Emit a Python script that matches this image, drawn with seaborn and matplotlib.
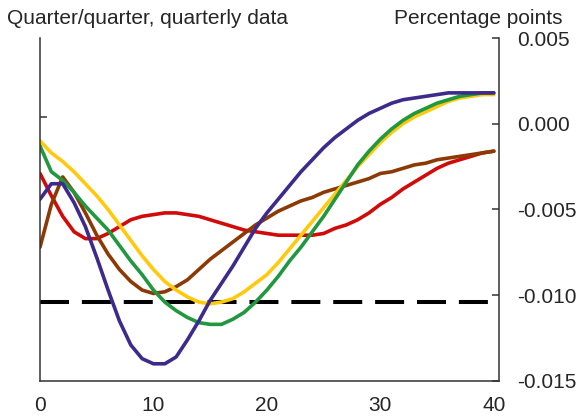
import matplotlib
matplotlib.use("Agg")
import matplotlib.pyplot as plt
import seaborn as sns
import pandas as pd
import numpy as np

quarters = list(range(0, 41))

red = [-0.0029, -0.0042, -0.0054, -0.0063, -0.0067, -0.0067, -0.0064, -0.0060, -0.0056, -0.0054,
       -0.0053, -0.0052, -0.0052, -0.0053, -0.0054, -0.0056, -0.0058, -0.0060, -0.0062, -0.0063,
       -0.0064, -0.0065, -0.0065, -0.0065, -0.0065, -0.0064, -0.0061, -0.0059, -0.0056, -0.0052,
       -0.0047, -0.0043, -0.0038, -0.0034, -0.0030, -0.0026, -0.0023, -0.0021, -0.0019, -0.0017,
       -0.0016]
brown = [-0.0072, -0.0047, -0.0031, -0.0040, -0.0052, -0.0065, -0.0076, -0.0085, -0.0092, -0.0097,
         -0.0099, -0.0098, -0.0095, -0.0091, -0.0085, -0.0079, -0.0074, -0.0069, -0.0064, -0.0059,
         -0.0055, -0.0051, -0.0048, -0.0045, -0.0043, -0.0040, -0.0038, -0.0036, -0.0034, -0.0032,
         -0.0029, -0.0028, -0.0026, -0.0024, -0.0023, -0.0021, -0.0020, -0.0019, -0.0018, -0.0017,
         -0.0016]
yellow = [-0.0010, -0.0017, -0.0022, -0.0028, -0.0035, -0.0042, -0.0050, -0.0059, -0.0068, -0.0077,
          -0.0085, -0.0092, -0.0097, -0.0101, -0.0104, -0.0105, -0.0104, -0.0102, -0.0098, -0.0093,
          -0.0088, -0.0081, -0.0073, -0.0065, -0.0057, -0.0049, -0.0041, -0.0033, -0.0025, -0.0018,
          -0.0011, -0.0005, 0.0000, 0.0004, 0.0007, 0.0010, 0.0013, 0.0015, 0.0016, 0.0017,
          0.0017]
green = [-0.0013, -0.0028, -0.0033, -0.0040, -0.0048, -0.0055, -0.0062, -0.0071, -0.0080, -0.0088,
         -0.0097, -0.0104, -0.0109, -0.0113, -0.0116, -0.0117, -0.0117, -0.0114, -0.0110, -0.0104,
         -0.0097, -0.0089, -0.0080, -0.0072, -0.0063, -0.0054, -0.0044, -0.0034, -0.0024, -0.0016,
         -0.0009, -0.0003, 0.0002, 0.0006, 0.0009, 0.0012, 0.0014, 0.0016, 0.0017, 0.0018,
         0.0018]
purple = [-0.0044, -0.0035, -0.0035, -0.0046, -0.0060, -0.0078, -0.0097, -0.0115, -0.0129, -0.0137,
          -0.0140, -0.0140, -0.0136, -0.0126, -0.0115, -0.0103, -0.0093, -0.0083, -0.0072, -0.0061,
          -0.0052, -0.0044, -0.0036, -0.0028, -0.0021, -0.0014, -0.0008, -0.0003, 0.0002, 0.0006,
          0.0009, 0.0012, 0.0014, 0.0015, 0.0016, 0.0017, 0.0018, 0.0018, 0.0018, 0.0018,
          0.0018]

threshold = -0.0104
series_names = ["Red", "Brown", "Yellow", "Green", "Purple"]
series_values = [red, brown, yellow, green, purple]
palette = {"Red": "#D10A0A", "Brown": "#8B3A05", "Yellow": "#FFC90E",
           "Green": "#21973F", "Purple": "#3D2A8A"}
right_ticks = [-0.015, -0.010, -0.005, 0.000, 0.005]
right_labels = ["-0.015", "-0.010", "-0.005", "0.000", "0.005"]
x_ticks = [0, 10, 20, 30, 40]
left_tick = [0.0004]

rows = []
for name, vals in zip(series_names, series_values):
    for q, v in zip(quarters, vals):
        rows.append({"quarter": q, "value": v, "series": name})
df = pd.DataFrame(rows)

sns.set_style("white")
plt.rcParams['font.family'] = ['Liberation Sans', 'DejaVu Sans']
FS = 15

fig = plt.figure(figsize=(5.8, 4.2), dpi=100)
ax = fig.add_axes([0.069, 0.093, 0.791, 0.8165])

ax.axhline(threshold, color="black", lw=2.9, dashes=(7.2, 3.2), zorder=1)
sns.lineplot(data=df, x="quarter", y="value", hue="series", hue_order=series_names,
             palette=palette, lw=2.6, legend=False, ax=ax, zorder=2)

ax.set_xlim(0, 40.44)
ax.set_ylim(-0.015, 0.005)
ax.set_xlabel("")
ax.set_ylabel("")

for s in ["left", "bottom", "right"]:
    ax.spines[s].set_visible(True)
    ax.spines[s].set_color("#333333")
    ax.spines[s].set_linewidth(1.1)
ax.spines["top"].set_visible(False)

ax.set_xticks(x_ticks)
ax.set_xticklabels([str(t) for t in x_ticks], fontsize=FS)
ax.tick_params(axis="x", direction="in", length=5, width=1.1, color="#333333", pad=11)

ax.set_yticks(left_tick)
ax.set_yticklabels([])
ax.tick_params(axis="y", direction="in", length=5, width=1.1, color="#333333", left=True)

ax2 = ax.twinx()
ax2.set_ylim(-0.015, 0.005)
ax2.set_yticks(right_ticks)
ax2.set_yticklabels(right_labels, fontsize=FS)
ax2.tick_params(axis="y", direction="in", length=5, width=1.1, color="#333333", pad=13, right=True)
for s in ax2.spines.values():
    s.set_visible(False)

fig.text(0.012, 0.957, "Quarter/quarter, quarterly data", fontsize=FS, va="center", ha="left")
fig.text(0.969, 0.957, "Percentage points", fontsize=FS, va="center", ha="right")

fig.savefig("out.png", dpi=100)
